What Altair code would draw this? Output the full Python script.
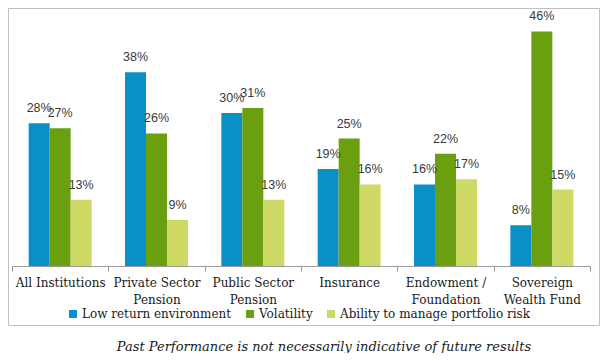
import altair as alt
import pandas as pd

categories = ["All Institutions", "Private Sector|Pension", "Public Sector|Pension",
              "Insurance", "Endowment /|Foundation", "Sovereign|Wealth Fund"]
series = ["Low return environment", "Volatility", "Ability to manage portfolio risk"]
low_return = [28, 38, 30, 19, 16, 8]
volatility = [27, 26, 31, 25, 22, 46]
ability = [13, 9, 13, 16, 17, 15]
colors = ["#0B8FC7", "#6A9F10", "#CFD966"]
caption = ["Past Performance is not necessarily indicative of future results"]

rows = []
for vals, s in zip([low_return, volatility, ability], series):
    for c, v in zip(categories, vals):
        rows.append({"cat": c, "series": s, "value": v, "label": f"{v}%"})
df = pd.DataFrame(rows)

x = alt.X("cat:N", sort=categories, title=None,
          scale=alt.Scale(paddingInner=0, paddingOuter=0),
          axis=alt.Axis(labelAngle=0, labelExpr="split(datum.label, '|')",
                        labelFont="DejaVu Serif", labelFontSize=12, labelColor="#1a1a1a",
                        labelLineHeight=17, labelPadding=6, labelLimit=200,
                        domainColor="#9a9a9a", tickColor="#9a9a9a", tickSize=5,
                        tickBand="extent", grid=False))
xoff = alt.XOffset("series:N", sort=series,
                   scale=alt.Scale(paddingInner=0, paddingOuter=0.794))
y = alt.Y("value:Q", scale=alt.Scale(domain=[0, 50]), axis=None)

base = alt.Chart(df)
bars = base.mark_bar().encode(
    x=x, xOffset=xoff, y=y,
    color=alt.Color("series:N", sort=series,
                    scale=alt.Scale(domain=series, range=colors),
                    legend=alt.Legend(title=None, orient="none", legendX=55, legendY=297,
                                      direction="horizontal", symbolType="square",
                                      symbolSize=64, symbolStrokeWidth=0,
                                      labelFont="DejaVu Serif", labelFontSize=12,
                                      labelColor="#1a1a1a", labelOffset=3,
                                      labelLimit=400, columnPadding=12)),
)
texts = base.mark_text(dy=-11, baseline="alphabetic", font="Liberation Sans", fontSize=12.5,
                       color="#3a3a3a").encode(
    x=x, xOffset=xoff, y=y, text="label:N")

one = alt.Chart(pd.DataFrame({"t": caption}))
frame = one.mark_rect(fillOpacity=0, stroke="#BFBFBF", strokeWidth=1).encode(
    x=alt.value(-3.5), x2=alt.value(587.5), y=alt.value(-2.5), y2=alt.value(314.5))
cap = one.mark_text(font="DejaVu Serif", fontStyle="italic", fontSize=13,
                    color="#1a1a1a", baseline="middle").encode(
    x=alt.value(312), y=alt.value(336), text="t:N")

chart = alt.layer(bars, texts, frame, cap).properties(
    width=578, height=255,
    autosize=alt.AutoSizeParams(type="none"),
    padding={"left": 4, "top": 3, "right": 10, "bottom": 87},
).configure_view(stroke=None)

chart.save("out.html", embed_options={"renderer": "svg", "actions": False})
